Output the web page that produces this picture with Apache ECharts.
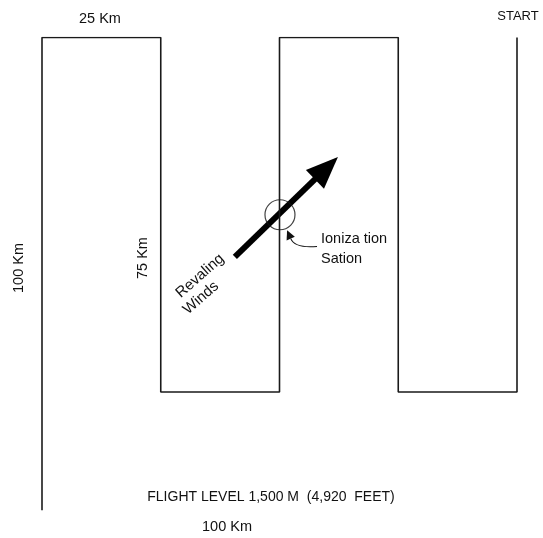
<!DOCTYPE html>
<html><head><meta charset="utf-8">
<script src="https://cdn.jsdelivr.net/npm/echarts@6/dist/echarts.min.js"></script>
<style>html,body{margin:0;padding:0;background:#fff}#c{width:543px;height:538px}</style>
</head><body><div id="c"></div>
<script>
// Flight path (km): legs 25 km apart, 75 km long, start at top right
const pathX = [100, 100, 75, 75, 50, 50, 25, 25, 0, 0];
const pathY = [0, 75, 75, 0, 0, 75, 75, 0, 0, 100];
// Prevailing wind arrow (km)
const windFrom = [40.6, 46.4];
const windTo = [62.3, 25.3];
// Ionization station (km)
const station = [50.1, 37.5];
const pointerFrom = [57.9, 44.2];
const pointerTo = [51.6, 40.8];
// Text labels
const labelTopLeg = '25 Km';
const labelStart = 'START';
const labelLeft = '100 Km';
const labelLeg = '75 Km';
const labelWind1 = 'Revaling';
const labelWind2 = 'Winds';
const labelStation1 = 'Ioniza tion';
const labelStation2 = 'Sation';
const labelFlight = 'FLIGHT LEVEL 1,500 M  (4,920  FEET)';
const labelBottom = '100 Km';

const chart = echarts.init(document.getElementById('c'), null, {renderer: 'canvas'});
const font = '"Liberation Sans", Arial, sans-serif';
const txt = (x, y, text, opts) => Object.assign({
  type: 'text', x: x, y: y,
  style: Object.assign({text: text, fill: '#111', font: '14.5px ' + font, align: 'center', verticalAlign: 'middle'}, (opts && opts.style) || {})
}, opts ? {rotation: opts.rotation || 0} : {});

const pathData = pathX.map((x, i) => [x, pathY[i]]);

chart.setOption({
  animation: false,
  grid: {left: 42, right: 26, top: 37.5, bottom: 27.8},
  xAxis: {type: 'value', min: 0, max: 100, show: false},
  yAxis: {type: 'value', min: 0, max: 100, inverse: true, show: false},
  series: [
    {
      type: 'line', data: pathData, symbol: 'none',
      lineStyle: {color: '#1a1a1a', width: 1.6}
    },
    {
      type: 'scatter', data: [station], symbol: 'circle', symbolSize: 30,
      itemStyle: {color: 'rgba(0,0,0,0)', borderColor: '#111', borderWidth: 1.2}
    },
    {
      type: 'custom', data: [[windFrom[0], windFrom[1], windTo[0], windTo[1]]],
      renderItem: function (params, api) {
        const a = api.coord([api.value(0), api.value(1)]);
        const b = api.coord([api.value(2), api.value(3)]);
        const dx = b[0] - a[0], dy = b[1] - a[1];
        const len = Math.sqrt(dx * dx + dy * dy);
        const ux = dx / len, uy = dy / len;
        const headLen = 32, headW = 13;
        const base = [b[0] - ux * headLen, b[1] - uy * headLen];
        const px = -uy, py = ux;
        return {
          type: 'group',
          children: [
            {type: 'line', shape: {x1: a[0], y1: a[1], x2: base[0] + ux * 2, y2: base[1] + uy * 2},
             style: {stroke: '#000', lineWidth: 6}},
            {type: 'polygon', shape: {points: [b, [base[0] + px * headW, base[1] + py * headW], [base[0] - px * headW, base[1] - py * headW]]},
             style: {fill: '#000'}}
          ]
        };
      }
    },
    {
      type: 'custom', data: [[pointerFrom[0], pointerFrom[1], pointerTo[0], pointerTo[1]]],
      renderItem: function (params, api) {
        const a = api.coord([api.value(0), api.value(1)]);
        const b = api.coord([api.value(2), api.value(3)]);
        const cp = [a[0] - 22, a[1] + 2];
        const dx = b[0] - cp[0], dy = b[1] - cp[1];
        const len = Math.sqrt(dx * dx + dy * dy);
        const ux = dx / len, uy = dy / len, px = -uy, py = ux;
        const hl = 9, hw = 4.5;
        const base = [b[0] - ux * hl, b[1] - uy * hl];
        return {
          type: 'group',
          children: [
            {type: 'bezierCurve', shape: {x1: a[0], y1: a[1], x2: base[0], y2: base[1], cpx1: cp[0], cpy1: cp[1]},
             style: {stroke: '#111', lineWidth: 1.1, fill: null}},
            {type: 'polygon', shape: {points: [b, [base[0] + px * hw, base[1] + py * hw], [base[0] - px * hw, base[1] - py * hw]]},
             style: {fill: '#111'}}
          ]
        };
      }
    }
  ],
  graphic: [
    txt(100, 19, labelTopLeg),
    txt(518, 16, labelStart, {style: {font: '13px ' + font}}),
    txt(19, 268, labelLeft, {rotation: Math.PI / 2}),
    txt(143, 258, labelLeg, {rotation: Math.PI / 2}),
    txt(200, 276, labelWind1, {rotation: 0.72, style: {font: '15px ' + font}}),
    txt(201, 298, labelWind2, {rotation: 0.72, style: {font: '15px ' + font}}),
    txt(321, 239, labelStation1, {style: {align: 'left'}}),
    txt(321, 259, labelStation2, {style: {align: 'left'}}),
    txt(271, 497, labelFlight, {style: {font: '14px ' + font}}),
    txt(227, 527, labelBottom)
  ]
});
</script></body></html>
